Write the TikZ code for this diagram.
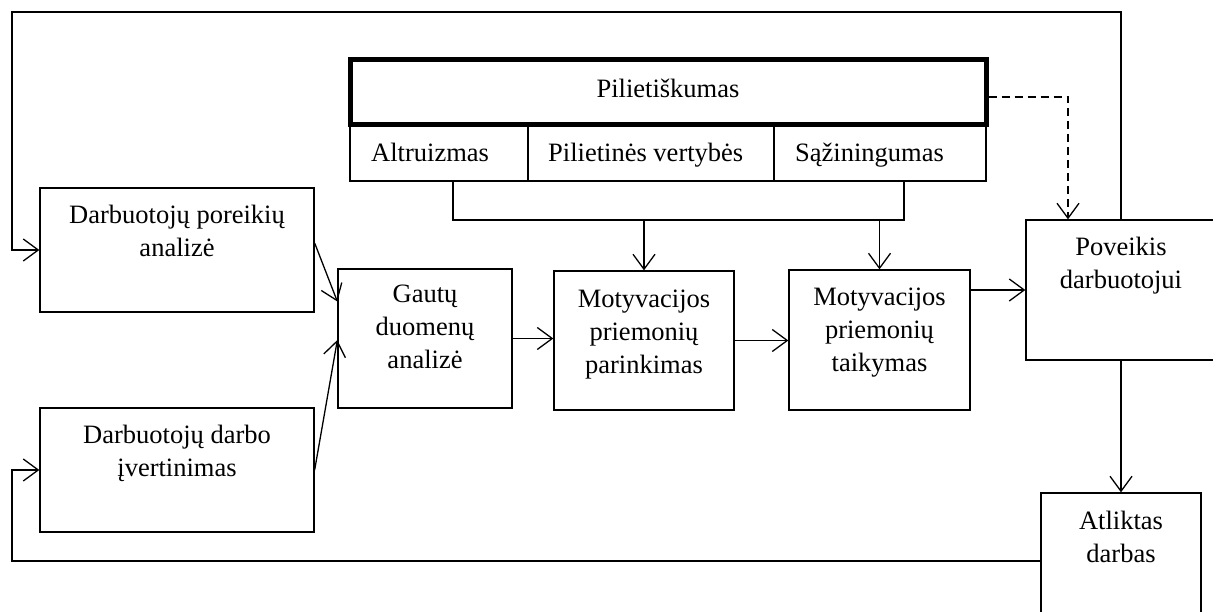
\documentclass[tikz,border=0pt]{standalone}
\usepackage{fontspec}
\setmainfont{Liberation Serif}
\usetikzlibrary{arrows.meta,positioning}

\begin{document}
\begin{tikzpicture}[x=1pt,y=-1pt,
box/.style={draw,line width=1.3pt,inner sep=0pt},
txt/.style={inner sep=0pt,align=center,font=\fontsize{26.5}{33}\selectfont},
ln/.style={line width=1.3pt},
arr/.style={line width=1.3pt,-{Straight Barb[length=15pt,width=22pt]}}]

\useasboundingbox (0,0) rectangle (1213,612);

\node[box,minimum width=274pt,minimum height=124pt] (poreik) at (177,250) {};
\node[box,minimum width=274pt,minimum height=124pt] (ivert) at (177,470) {};
\node[box,minimum width=174pt,minimum height=139pt] (gaut) at (425,338.5) {};
\node[box,minimum width=180pt,minimum height=139pt] (parink) at (644,340.5) {};
\node[box,minimum width=181pt,minimum height=140pt] (taik) at (879.5,340) {};
\node[box,minimum width=190pt,minimum height=140pt] (poveik) at (1121,290) {};
\node[box,minimum width=160pt,minimum height=127pt] (atlikt) at (1121,556.5) {};

\node[box,minimum width=178pt,minimum height=56pt] (altr) at (439,153) {};
\node[box,minimum width=246pt,minimum height=56pt] (vert) at (651,153) {};
\node[box,minimum width=212pt,minimum height=56pt] (saz) at (880,153) {};
\node[box,line width=5pt,minimum width=636pt,minimum height=65pt] (pil) at (668,92.5) {};

\node[txt,anchor=base] (pilT) at (668,98) {Pilietiškumas};
\node[txt,anchor=base west] (altrT) at (371,162) {Altruizmas};
\node[txt,anchor=base west] (vertT) at (548,162) {Pilietinės vertybės};
\node[txt,anchor=base west] (sazT) at (795,162) {Sąžiningumas};

\node[txt,below=18pt of poreik.north] (poreikT) {Darbuotojų poreikių\\analizė};
\node[txt,below=18pt of ivert.north] (ivertT) {Darbuotojų darbo\\įvertinimas};
\node[txt,below=16pt of gaut.north] (gautT) {Gautų\\duomenų\\analizė};
\node[txt,below=19pt of parink.north] (parinkT) {Motyvacijos\\priemonių\\parinkimas};
\node[txt,below=18pt of taik.north] (taikT) {Motyvacijos\\priemonių\\taikymas};
\node[txt,below=18pt of poveik.north] (poveikT) {Poveikis\\darbuotojui};
\node[txt,below=19pt of atlikt.north] (atliktT) {Atliktas\\darbas};

\coordinate (jl) at (453,220);
\coordinate (jr) at (904,220);
\coordinate (dd) at (1068,97);
\coordinate (lt) at (12,12);
\coordinate (lb) at (12,561);

\draw[ln] (altr.south -| jl) |- (jr) -- (saz.south -| jr);
\draw[arr] (parink.north |- jl) -- (parink.north);
\draw[arr] (taik.north |- jr) -- (taik.north);
\draw[arr,dash pattern=on 8pt off 5pt] (pil.east |- dd) -| (poveik.north -| dd);

\draw[arr] (poveik.north) |- (lt) |- (poreik.west);
\draw[arr] (atlikt.west |- lb) -- (lb) |- (ivert.west);

\draw[arr] ([yshift=7pt]poreik.east) -- ([yshift=37pt]gaut.west);
\draw[arr] (ivert.east) -- ([yshift=-1.5pt]gaut.west);
\draw[arr] (gaut.east) -- (parink.west |- gaut.east);
\draw[arr] (parink.east) -- (taik.west |- parink.east);
\draw[arr] (taik.east |- poveik.west) -- (poveik.west);
\draw[arr] (poveik.south) -- (atlikt.north);
\end{tikzpicture}
\end{document}
